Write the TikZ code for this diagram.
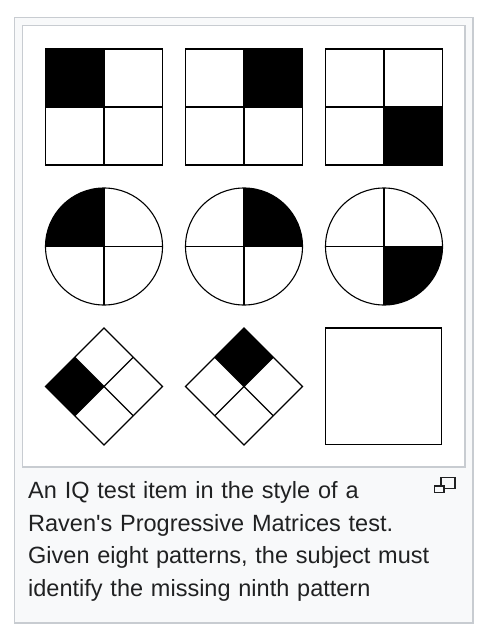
\documentclass[tikz,border=0pt]{standalone}
\usepackage{fontspec}
\setmainfont{Liberation Sans}[Ligatures=TeXOff]
\definecolor{frame}{HTML}{C8CCD1}
\definecolor{capbg}{HTML}{F8F9FA}
\definecolor{ink}{HTML}{202122}
\begin{document}
\begin{tikzpicture}[x=1pt,y=-1pt,
  fig/.style={draw=black,line width=1.1pt},
  cell/.style={fill=black},
  box/.style={draw=frame,line width=1.8pt}]
\useasboundingbox (0,0) rectangle (488,636);
\fill[white] (0,0) rectangle (488,636);
% outer thumbnail frame
\filldraw[box,fill=capbg] (14.5,17.5) rectangle (473,623);
% inner image frame
\filldraw[box,fill=white] (22.5,25.5) rectangle (465,467);
% row 1: squares
\foreach \cx/\q in {104/1,244/2,384/3}{
  \begin{scope}[shift={(\cx,107)}]
    \ifnum\q=1 \fill[cell] (-58.5,-58) rectangle (0,0);\fi
    \ifnum\q=2 \fill[cell] (0,-58) rectangle (58.5,0);\fi
    \ifnum\q=3 \fill[cell] (0,0) rectangle (58.5,58);\fi
    \draw[fig] (-58.5,-58) rectangle (58.5,58);
    \draw[fig] (0,-58) -- (0,58) (-58.5,0) -- (58.5,0);
  \end{scope}}
% row 2: circles (y axis points down: angle 270 is up)
\foreach \cx/\q in {104/1,244/2,384/3}{
  \begin{scope}[shift={(\cx,246.5)}]
    \ifnum\q=1 \fill[cell] (0,0) -- (-58.5,0) arc[start angle=180,end angle=270,radius=58.5] -- cycle;\fi
    \ifnum\q=2 \fill[cell] (0,0) -- (58.5,0) arc[start angle=0,end angle=-90,radius=58.5] -- cycle;\fi
    \ifnum\q=3 \fill[cell] (0,0) -- (58.5,0) arc[start angle=0,end angle=90,radius=58.5] -- cycle;\fi
    \draw[fig] (0,0) circle[radius=58.5];
    \draw[fig] (0,-58.5) -- (0,58.5) (-58.5,0) -- (58.5,0);
  \end{scope}}
% row 3: diamonds
\foreach \cx/\q in {104/1,244/2}{
  \begin{scope}[shift={(\cx,386.5)}]
    \ifnum\q=1 \fill[cell] (-58.5,0) -- (-29.25,-29.25) -- (0,0) -- (-29.25,29.25) -- cycle;\fi
    \ifnum\q=2 \fill[cell] (0,-58.5) -- (29.25,-29.25) -- (0,0) -- (-29.25,-29.25) -- cycle;\fi
    \draw[fig] (-58.5,0) -- (0,-58.5) -- (58.5,0) -- (0,58.5) -- cycle;
    \draw[fig] (-29.25,-29.25) -- (29.25,29.25) (29.25,-29.25) -- (-29.25,29.25);
  \end{scope}}
% blank answer square
\draw[fig] (325.5,328) rectangle (441.5,444.5);
% caption
\node[anchor=north west,inner sep=0pt,text=ink,font=\fontsize{23.5}{32.8}\selectfont,align=left,text width=420pt] (cap) at (28,481)
  {An IQ test item in the style of a\\Raven's Progressive Matrices test.\\Given eight patterns, the subject must\\identify the missing ninth pattern};
% enlarge icon
\draw[ink,line width=1.1pt,fill=capbg] (441,477.5) rectangle (455,488.5);
\draw[ink,line width=1.1pt,fill=capbg] (434.5,486) rectangle (444,492.5);
\end{tikzpicture}
\end{document}
